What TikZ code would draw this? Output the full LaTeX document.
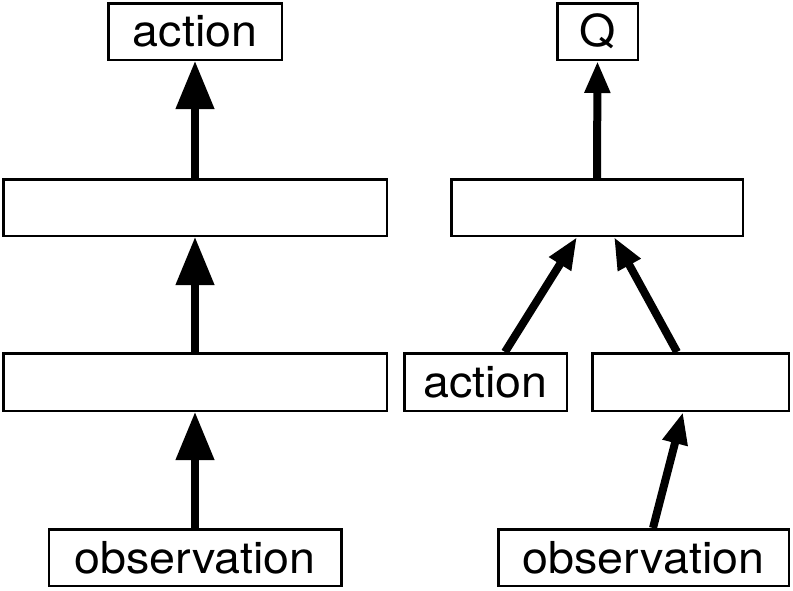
\documentclass[tikz,border=0pt]{standalone}
\usepackage{fontspec}
\setmainfont{TeX Gyre Heros}[FakeStretch=1.06]
\usetikzlibrary{arrows.meta}
\begin{document}
\begin{tikzpicture}[x=1pt,y=-1pt,
  box/.style={draw=black, line width=2.5pt, fill=white, inner sep=0pt,
    font=\fontsize{44}{50}\selectfont},
  bigarrow/.style={line width=7.5pt, -{Triangle[length=48pt,width=37pt]}},
  smallarrow/.style={line width=8pt, -{Triangle[length=32pt,width=24pt]}}]
\useasboundingbox (0,0) rectangle (793,590);
% left column
\node[box, minimum width=173.5pt, minimum height=56.5pt] (actL) at (195,31.5) {action};
\node[box, minimum width=383.5pt, minimum height=56.5pt] (hL2) at (195,207.5) {};
\node[box, minimum width=383.5pt, minimum height=57.5pt] (hL1) at (195,382) {};
\node[box, minimum width=292.5pt, minimum height=56.5pt] (obsL) at (195,557.5) {observation};
\draw[bigarrow] (obsL.north) -- (hL1.south);
\draw[bigarrow] (hL1.north) -- (hL2.south);
\draw[bigarrow] (hL2.north) -- (actL.south);
% right column
\node[box, minimum width=80.5pt, minimum height=56.5pt] (Q) at (597.5,31.5) {Q};
\node[box, minimum width=291.5pt, minimum height=56.5pt] (hR2) at (597,207.5) {};
\node[box, minimum width=162.5pt, minimum height=57.5pt] (actR) at (485.5,382) {action};
\node[box, minimum width=196.5pt, minimum height=57.5pt] (hR1) at (690.5,382) {};
\node[box, minimum width=290.5pt, minimum height=56.5pt] (obsR) at (643.5,557.5) {observation};
\draw[smallarrow] (hR2.north) -- (Q.south);
\draw[smallarrow] ([xshift=19.5pt]actR.north) -- ([xshift=-20pt]hR2.south);
\draw[smallarrow] ([xshift=-13.5pt]hR1.north) -- ([xshift=17pt]hR2.south);
\draw[smallarrow] ([xshift=9.5pt]obsR.north) -- ([xshift=-7.5pt]hR1.south);
\end{tikzpicture}
\end{document}
